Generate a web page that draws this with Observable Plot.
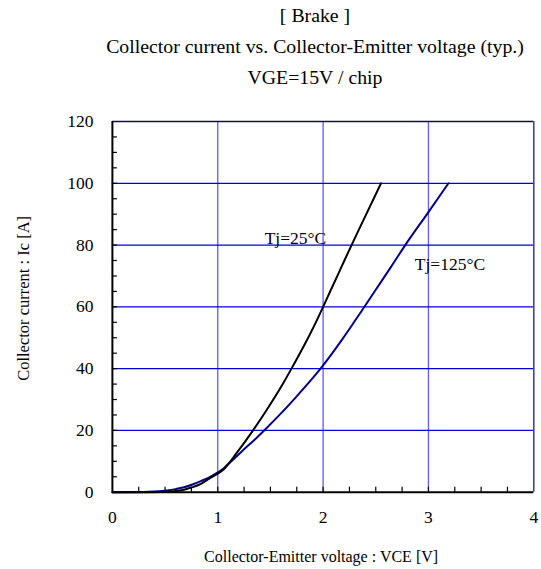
<!DOCTYPE html>
<html><head><meta charset="utf-8">
<script src="https://cdn.jsdelivr.net/npm/d3@7"></script>
<script src="https://cdn.jsdelivr.net/npm/@observablehq/plot@0.6"></script>
<style>
body{margin:0;background:#fff;}
#titles{width:541px;box-sizing:border-box;padding-left:89px;text-align:center;font-family:"Liberation Serif","Times New Roman",serif;font-size:19.8px;line-height:31px;white-space:nowrap;overflow:hidden;color:#000;}
#chart svg{display:block;}
</style></head><body>
<div id="titles"></div><div id="chart"></div>
<script>
const titleLines = ["[ Brake ]", "Collector current vs. Collector-Emitter voltage (typ.)", "VGE=15V / chip"];
const xLabel = "Collector-Emitter voltage : VCE [V]";
const yLabel = "Collector current : Ic [A]";

const xTicks = [0, 1, 2, 3, 4];
const yTicks = [0, 20, 40, 60, 80, 100, 120];
const xGrid = [1, 2, 3];
const yGrid = [20, 40, 60, 80, 100];
const xMinor = [0.25,0.5,0.75,1,1.25,1.5,1.75,2,2.25,2.5,2.75,3,3.25,3.5,3.75];
const yMinor = [5,10,15,20,25,30,35,40,45,50,55,60,65,70,75,80,85,90,95,100,105,110,115];

const seriesNames = ["Tj=25°C", "Tj=125°C"];
const v25 = [0, 0.3, 0.45, 0.55, 0.62, 0.68, 0.75, 0.84, 0.92, 1.0, 1.053, 1.18, 1.335, 1.49, 1.62, 1.70, 1.837, 1.93, 2.0, 2.07, 2.17, 2.27, 2.41, 2.55];
const i25 = [0, 0, 0.05, 0.2, 0.45, 0.8, 1.5, 2.7, 4.4, 6.0, 7.3, 12.7, 20, 28, 35.2, 40, 48.6, 54.9, 60, 65.2, 72.6, 80, 90, 100];
const v125 = [0, 0.3, 0.4, 0.52, 0.6, 0.68, 0.76, 0.84, 0.92, 1.0, 1.04, 1.085, 1.15, 1.24, 1.35, 1.45, 1.6, 1.743, 1.87, 1.987, 2.18, 2.37, 2.495, 2.64, 2.78, 2.99, 3.19];
const i125 = [0, 0.05, 0.2, 0.55, 1.0, 1.6, 2.5, 3.6, 4.8, 6.4, 7.3, 8.7, 10.7, 13.6, 17.0, 20.3, 25.5, 30.8, 35.7, 40.5, 49.4, 58.9, 65.3, 72.7, 80, 90.2, 100];

const labelX = [2.03, 2.87];
const labelY = [82, 73.7];

document.getElementById("titles").innerHTML = titleLines.map(t => `<div>${t}</div>`).join("");

const d25 = v25.map((v, i) => ({v, i: i25[i]}));
const d125 = v125.map((v, i) => ({v, i: i125[i]}));
const labels = seriesNames.map((s, k) => ({s, x: labelX[k], y: labelY[k]}));

const font = "Liberation Serif, Times New Roman, serif";
const plot = Plot.plot({
  width: 541, height: 476,
  marginTop: 28, marginBottom: 77.3, marginLeft: 111.9, marginRight: 7.7,
  style: {fontFamily: font, fontSize: "17.5px", background: "#fff", color: "#000"},
  x: {domain: [0, 4]},
  y: {domain: [0, 120]},
  marks: [
    Plot.ruleX(xGrid, {y1: 0, y2: 120, stroke: "#5c5cff", strokeWidth: 1.3}),
    Plot.ruleY(yGrid, {x1: 0, x2: 4, stroke: "#0000d8", strokeWidth: 1.2}),
    Plot.ruleY([120], {x1: 0, x2: 4, stroke: "#111144", strokeWidth: 1.5}),
    Plot.ruleX([4], {y1: 0, y2: 120, stroke: "#3a3a99", strokeWidth: 1.5}),
    Plot.axisX(xMinor, {tickSize: 5, dy: -5, fill: "none", label: null, strokeWidth: 1.2}),
    Plot.axisY(yMinor, {tickSize: 5, dx: 5, fill: "none", label: null, strokeWidth: 1.2}),
    Plot.axisX(xTicks, {tickSize: 0, tickPadding: 18, label: null}),
    Plot.axisY(yTicks, {tickSize: 0, tickPadding: 19, label: null}),
    Plot.ruleX([0], {y1: 0, y2: 120, stroke: "#000", strokeWidth: 2}),
    Plot.ruleY([0], {x1: 0, x2: 4, stroke: "#000", strokeWidth: 2}),
    Plot.line(d125, {x: "v", y: "i", stroke: "#000088", strokeWidth: 2, curve: "monotone-x"}),
    Plot.line(d25, {x: "v", y: "i", stroke: "#000", strokeWidth: 2, curve: "monotone-x"}),
    Plot.text(labels.slice(0, 1), {x: "x", y: "y", text: "s", textAnchor: "end", fontSize: 17.5, fill: "#000"}),
    Plot.text(labels.slice(1), {x: "x", y: "y", text: "s", textAnchor: "start", fontSize: 17.5, fill: "#000"}),
    Plot.text([xLabel], {frameAnchor: "bottom", lineAnchor: "middle", textAnchor: "middle", dy: 65, dx: -2, fontSize: 16, fill: "#000"}),
    Plot.text([yLabel], {frameAnchor: "left", textAnchor: "middle", lineAnchor: "middle", rotate: -90, dx: -89, dy: -8.5, fontSize: 16.5, fill: "#000"})
  ]
});
document.getElementById("chart").appendChild(plot);
</script>
</body></html>
